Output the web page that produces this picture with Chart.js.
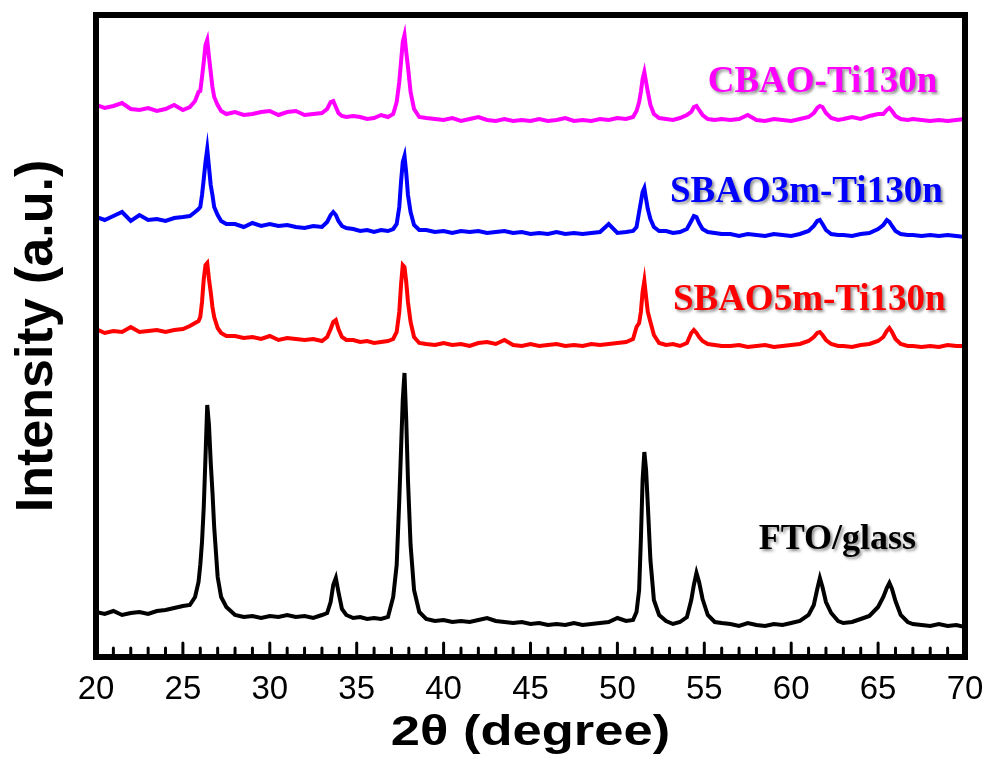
<!DOCTYPE html>
<html><head><meta charset="utf-8">
<script src="https://cdn.jsdelivr.net/npm/chart.js@4"></script>
<style>html,body{margin:0;padding:0;background:#fff}</style>
</head><body>
<canvas id="c" width="984" height="760"></canvas>
<script>
// 2θ sample positions (degree)
const twoTheta = [
  20.0, 20.5, 21.0, 21.5, 22.0, 22.5, 23.0, 23.5, 24.0, 24.5, 25.0,
  25.4, 25.7, 25.9,
  26.0, 26.1, 26.2, 26.3, 26.4, 26.5, 26.6, 26.7, 26.8,
  27.0, 27.2, 27.5,
  28.0, 28.5, 29.0, 29.5, 30.0, 30.5, 31.0, 31.5, 32.0, 32.5, 33.0,
  33.3, 33.5, 33.65, 33.8, 33.95, 34.15, 34.4,
  34.8, 35.2, 35.6, 36.0, 36.4, 36.8,
  37.1, 37.3, 37.45, 37.55, 37.65, 37.75, 37.85, 37.95, 38.1, 38.3, 38.6,
  39.0, 39.5, 40.0, 40.5, 41.0, 41.5, 42.0, 42.5, 43.0, 43.5, 44.0, 44.5, 45.0, 45.5, 46.0, 46.5, 47.0, 47.5, 48.0, 48.5, 49.0, 49.5, 50.0, 50.5,
  50.9, 51.1, 51.25, 51.35, 51.45, 51.55, 51.65, 51.75, 51.9, 52.1, 52.4,
  52.8, 53.2, 53.6, 54.0,
  54.25, 54.4, 54.55, 54.7, 54.9, 55.2,
  55.6, 56.0,
  56.5, 57.0, 57.5, 58.0, 58.5, 59.0, 59.5, 60.0, 60.5, 61.0,
  61.3, 61.5, 61.65, 61.8, 62.0, 62.3, 62.7,
  63.0, 63.5, 64.0, 64.5, 65.0,
  65.3, 65.5, 65.65, 65.8, 66.0, 66.3, 66.7,
  67.0, 67.5, 68.0, 68.5, 69.0, 69.5, 70.0
];

// Intensity (a.u., stacked with vertical offset as plotted)
const ftoGlass = [
  45, 43, 46, 42, 44, 45, 43, 46, 47, 49, 51,
  52, 60, 75,
  92, 115, 150, 200, 252, 232, 195, 165, 130,
  80, 60, 50,
  42, 40, 41, 39, 41, 40, 42, 40, 41, 39, 42,
  44, 55, 72, 79, 65, 48, 42,
  39, 40, 38, 39, 38, 40,
  60, 92, 157, 207, 257, 284, 237, 177, 112, 67, 45,
  38, 36, 37, 35, 36, 35, 37, 39, 36, 35, 34, 35, 33, 34, 32, 33, 32, 34, 32, 33, 34, 35, 39, 36,
  37, 45, 67, 117, 177, 205, 187, 152, 97, 57, 42,
  36, 33, 35, 40,
  57, 72, 84, 75, 58, 42,
  35, 34,
  33, 31, 34, 32, 31, 33, 32, 34, 36, 42,
  52, 68, 79, 70, 55, 44, 36,
  34, 35, 38, 41, 50,
  60, 69, 74, 68, 56, 42, 35,
  33, 32, 31, 33, 31, 32, 30
];
const sbao5m = [
  328, 324, 326, 325, 330, 325, 326, 327, 325, 327, 328,
  331, 334, 336,
  340, 355, 378, 392, 394, 378, 365, 350, 340,
  329, 324, 321,
  321, 319, 320, 318, 321, 317, 319, 318, 317, 318, 316,
  320, 328, 335, 337, 328, 320, 317,
  317, 315, 316, 314, 315, 316,
  318, 325, 345, 372, 392, 390, 375, 355, 335, 320, 314,
  313, 312, 314, 312, 313, 311, 314, 315, 313, 317, 312, 311, 313, 311, 312, 313, 311, 312, 311, 313, 312, 313, 314, 315,
  318, 330, 334, 345, 365, 376, 360, 345, 335, 322, 314,
  312, 313, 311, 314,
  324, 327, 324, 320, 316, 313,
  312, 311,
  311, 312, 310, 311, 312, 310, 311, 312, 313, 316,
  320, 324, 325, 322, 317, 313, 311,
  311, 310, 312, 313, 316,
  320, 326, 329, 325, 318, 313, 311,
  311, 310, 311, 310, 312, 311, 311
];
const sbao3m = [
  440, 437, 441, 445, 436, 442, 437, 438, 436, 439, 440,
  441, 445, 448,
  450, 462, 478, 495, 508, 490, 472, 462, 450,
  442, 436, 433,
  433, 430, 434, 431, 433, 431, 432, 430, 429, 431, 430,
  435, 442, 445, 442, 436, 431, 429,
  428, 426, 427, 425, 427, 426,
  428, 433, 450, 475, 495, 501, 484, 462, 445, 432, 427,
  427, 425, 426, 424, 426, 425, 426, 424, 425, 426, 424, 425, 423, 424, 423, 425, 423, 424, 423, 424, 425, 433, 424, 425,
  426, 430, 445, 455, 465, 469, 458, 448, 438, 430, 426,
  426, 424, 425, 428,
  436, 441, 440, 434, 428, 425,
  424, 423,
  423, 421, 423, 422, 421, 423, 422, 421, 423, 426,
  431, 436, 437, 433, 427, 423, 422,
  422, 421, 423, 424, 428,
  432, 437, 435, 431, 426, 423, 422,
  422, 421, 422, 421, 422, 421, 420
];
const cbao = [
  552, 549, 551, 554, 548, 547, 549, 546, 548, 552, 547,
  550, 556, 565,
  566, 580, 595, 612, 617, 600, 585, 570, 560,
  552, 546, 543,
  545, 542, 543, 545, 546, 542, 545, 546, 542, 543, 544,
  548, 555, 556, 550, 544, 541, 540,
  541, 540, 538, 539, 542, 540,
  543, 555, 575, 595, 615, 622, 605, 590, 565, 548, 540,
  539, 538, 537, 539, 536, 538, 540, 537, 536, 538, 536, 537, 536, 538, 536, 537, 539, 536, 537, 536, 538, 537, 539, 538,
  540, 546, 555, 565, 578, 585, 575, 565, 552, 543, 539,
  538, 537, 539, 542,
  545, 550, 551, 547, 542, 538,
  537, 538,
  537, 538, 542, 537, 536, 538, 537, 536, 538, 540,
  544, 549, 551, 550, 544, 539, 537,
  538, 540, 538, 541, 543,
  543, 547, 549, 546, 541, 538, 537,
  538, 537, 536, 537, 536, 537, 538
];

const seriesNames = ['FTO/glass', 'SBAO5m-Ti130n', 'SBAO3m-Ti130n', 'CBAO-Ti130n'];
const seriesValues = [ftoGlass, sbao5m, sbao3m, cbao];
const seriesColors = ['#000000', '#ff0000', '#0000ff', '#ff00ff'];
const xTickLabels = [20, 25, 30, 35, 40, 45, 50, 55, 60, 65, 70];
const xTitle = '2θ (degree)';
const yTitle = 'Intensity (a.u.)';
// label anchor (2θ, intensity) for each series name
const labelAnchors = [[62.66, 117], [61.04, 357], [60.87, 465], [61.8, 575]];

const datasets = seriesValues.map((vals, i) => ({
  label: seriesNames[i],
  data: twoTheta.map((t, j) => ({x: t, y: vals[j]})),
  borderColor: seriesColors[i],
  borderWidth: 4,
  pointRadius: 0,
  tension: 0,
  fill: false
}));

const framePlugin = {
  id: 'frame',
  afterDatasetsDraw(chart) {
    const {ctx, chartArea: a, scales: {x}} = chart;
    ctx.save();
    ctx.strokeStyle = '#000';
    ctx.lineWidth = 6;
    ctx.strokeRect(a.left, a.top, a.right - a.left, a.bottom - a.top);
    ctx.lineWidth = 3;
    ctx.lineCap = 'round';
    for (let v = x.min; v <= x.max; v += 1) {
      const px = x.getPixelForValue(v);
      const len = (v % 5 === 0) ? 11 : 6;
      ctx.beginPath();
      ctx.moveTo(px, a.bottom);
      ctx.lineTo(px, a.bottom - 3 - len);
      ctx.stroke();
    }
    // x-axis title (slightly wide lettering as in the original)
    const cx = (a.left + a.right) / 2;
    ctx.translate(cx, 745);
    ctx.scale(1.25, 1);
    ctx.font = 'bold 42px "Liberation Sans", Arial, sans-serif';
    ctx.fillStyle = '#000';
    ctx.textAlign = 'center';
    ctx.textBaseline = 'alphabetic';
    ctx.fillText(xTitle, 0, 0);
    ctx.restore();
  }
};

const labelPlugin = {
  id: 'seriesLabels',
  afterDatasetsDraw(chart) {
    const {ctx, scales: {x, y}} = chart;
    ctx.save();
    ctx.textAlign = 'center';
    ctx.textBaseline = 'middle';
    ctx.shadowColor = 'rgba(0,0,0,0.45)';
    ctx.shadowOffsetX = 2;
    ctx.shadowOffsetY = 2;
    ctx.shadowBlur = 3;
    seriesNames.forEach((name, i) => {
      ctx.font = (i === 0 ? 'bold 36px' : 'bold 37px') + ' "Liberation Serif", "Times New Roman", serif';
      ctx.fillStyle = seriesColors[i];
      ctx.fillText(name, x.getPixelForValue(labelAnchors[i][0]), y.getPixelForValue(labelAnchors[i][1]));
    });
    ctx.restore();
  }
};

new Chart(document.getElementById('c'), {
  type: 'line',
  data: {datasets},
  options: {
    responsive: false,
    animation: false,
    layout: {padding: {top: 15, right: 19, left: 0, bottom: 0}},
    plugins: {legend: {display: false}, tooltip: {enabled: false}},
    scales: {
      x: {
        type: 'linear', min: 20, max: 70,
        afterBuildTicks(s) { s.ticks = xTickLabels.map(v => ({value: v})); },
        afterFit(s) { s.height = 103; s.paddingLeft = 0; s.paddingRight = 0; },
        grid: {display: false, drawTicks: false},
        border: {display: false},
        ticks: {color: '#000', padding: 13, maxRotation: 0, autoSkip: false,
          font: {family: '"Liberation Sans", Arial, sans-serif', size: 33}},
        title: {display: false, text: xTitle}
      },
      y: {
        min: 0, max: 642,
        afterFit(s) { s.width = 96; },
        ticks: {display: false},
        grid: {display: false, drawTicks: false},
        border: {display: false},
        title: {display: true, text: yTitle, color: '#000', padding: {top: 6, bottom: 0},
          font: {family: '"Liberation Sans", Arial, sans-serif', size: 52, weight: 'bold'}}
      }
    }
  },
  plugins: [framePlugin, labelPlugin]
});
</script>
</body></html>
